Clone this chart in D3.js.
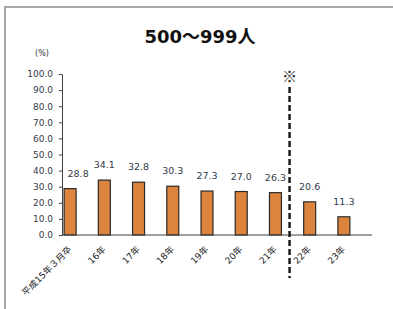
<!DOCTYPE html>
<html>
<head>
<meta charset="utf-8">
<script src="https://cdn.jsdelivr.net/npm/d3@7/dist/d3.min.js"></script>
<style>
  body { margin: 0; background: #fff; }
  svg { display: block; }
</style>
</head>
<body>
<div id="chart"></div>
<script>
const categories = ['平成15年３月卒', '16年', '17年', '18年', '19年', '20年', '21年', '22年', '23年'];
const values = [28.8, 34.1, 32.8, 30.3, 27.3, 27.0, 26.3, 20.6, 11.3];
const yTicks = [0, 10, 20, 30, 40, 50, 60, 70, 80, 90, 100];
const title = '500～999人';
const unitLabel = '(%)';
const breakAfter = '21年';

const W = 393, H = 309;
const plot = { left: 62, right: 372, top: 74, bottom: 235 };
const numFont = '"DejaVu Sans", "Noto Sans CJK JP", sans-serif';

const svg = d3.select('#chart').append('svg')
    .attr('width', W)
    .attr('height', H);

// outer frame (only top/left edges are visible in the picture)
svg.append('rect')
    .attr('x', 5).attr('y', 7)
    .attr('width', W + 10).attr('height', H + 10)
    .attr('fill', 'none')
    .attr('stroke', '#a8a8a8')
    .attr('stroke-width', 2);

const x = d3.scaleBand()
    .domain(categories)
    .range([53, 361])
    .paddingInner(0.65)
    .paddingOuter(0.325);

const y = d3.scaleLinear()
    .domain([0, 100])
    .range([plot.bottom, plot.top]);

// title
svg.append('text')
    .attr('x', 200).attr('y', 43)
    .attr('text-anchor', 'middle')
    .attr('font-family', numFont)
    .attr('font-weight', 'bold')
    .attr('font-size', 18)
    .attr('fill', '#111')
    .text(title);

svg.append('text')
    .attr('x', 42).attr('y', 56)
    .attr('text-anchor', 'middle')
    .attr('font-family', numFont)
    .attr('font-size', 8)
    .attr('fill', '#333')
    .text(unitLabel);

// y axis
const yAxis = svg.append('g')
    .attr('transform', `translate(${plot.left},0)`)
    .call(d3.axisLeft(y).tickValues(yTicks).tickFormat(d3.format('.1f')).tickSize(3).tickSizeOuter(0));
yAxis.select('.domain').attr('stroke', '#404040');
yAxis.selectAll('.tick line').attr('stroke', '#404040');
yAxis.selectAll('.tick text')
    .attr('x', -9)
    .attr('font-family', numFont)
    .attr('font-size', 9)
    .attr('fill', '#333a4a');

// bars
svg.selectAll('.bar')
    .data(values)
    .join('rect')
    .attr('class', 'bar')
    .attr('x', (d, i) => x(categories[i]))
    .attr('y', d => y(d))
    .attr('width', x.bandwidth())
    .attr('height', d => y(0) - y(d))
    .attr('fill', '#dc843e')
    .attr('stroke', '#2a2a2a')
    .attr('stroke-width', 1.2);

// value labels
svg.selectAll('.val')
    .data(values)
    .join('text')
    .attr('class', 'val')
    .attr('x', (d, i) => x(categories[i]) + x.bandwidth() / 2 + (i === 0 ? 8 : 0))
    .attr('y', d => y(d) - 12)
    .attr('text-anchor', 'middle')
    .attr('font-family', numFont)
    .attr('font-size', 9.5)
    .attr('fill', '#333a4a')
    .text(d => d.toFixed(1));

// x axis line
svg.append('line')
    .attr('x1', plot.left).attr('x2', plot.right)
    .attr('y1', y(0)).attr('y2', y(0))
    .attr('stroke', '#404040');

// x labels
svg.selectAll('.xl')
    .data(categories)
    .join('text')
    .attr('class', 'xl')
    .attr('transform', d => `translate(${x(d) + x.bandwidth() / 2 + 2},${y(0) + 15}) rotate(-45)`)
    .attr('text-anchor', 'end')
    .attr('font-family', numFont)
    .attr('font-size', 9)
    .attr('fill', '#222')
    .text(d => d);

// dashed separator
const bi = categories.indexOf(breakAfter);
const sepX = (x(categories[bi]) + x(categories[bi + 1]) + x.bandwidth()) / 2 - 3;
svg.append('line')
    .attr('x1', sepX).attr('x2', sepX)
    .attr('y1', 87).attr('y2', 278)
    .attr('stroke', '#1a1a1a')
    .attr('stroke-width', 2.5)
    .attr('stroke-dasharray', '6,3');

svg.append('text')
    .attr('x', sepX).attr('y', 82)
    .attr('text-anchor', 'middle')
    .attr('font-family', '"Noto Sans CJK JP", sans-serif')
    .attr('font-size', 15)
    .attr('fill', '#222')
    .text('※');
</script>
</body>
</html>
